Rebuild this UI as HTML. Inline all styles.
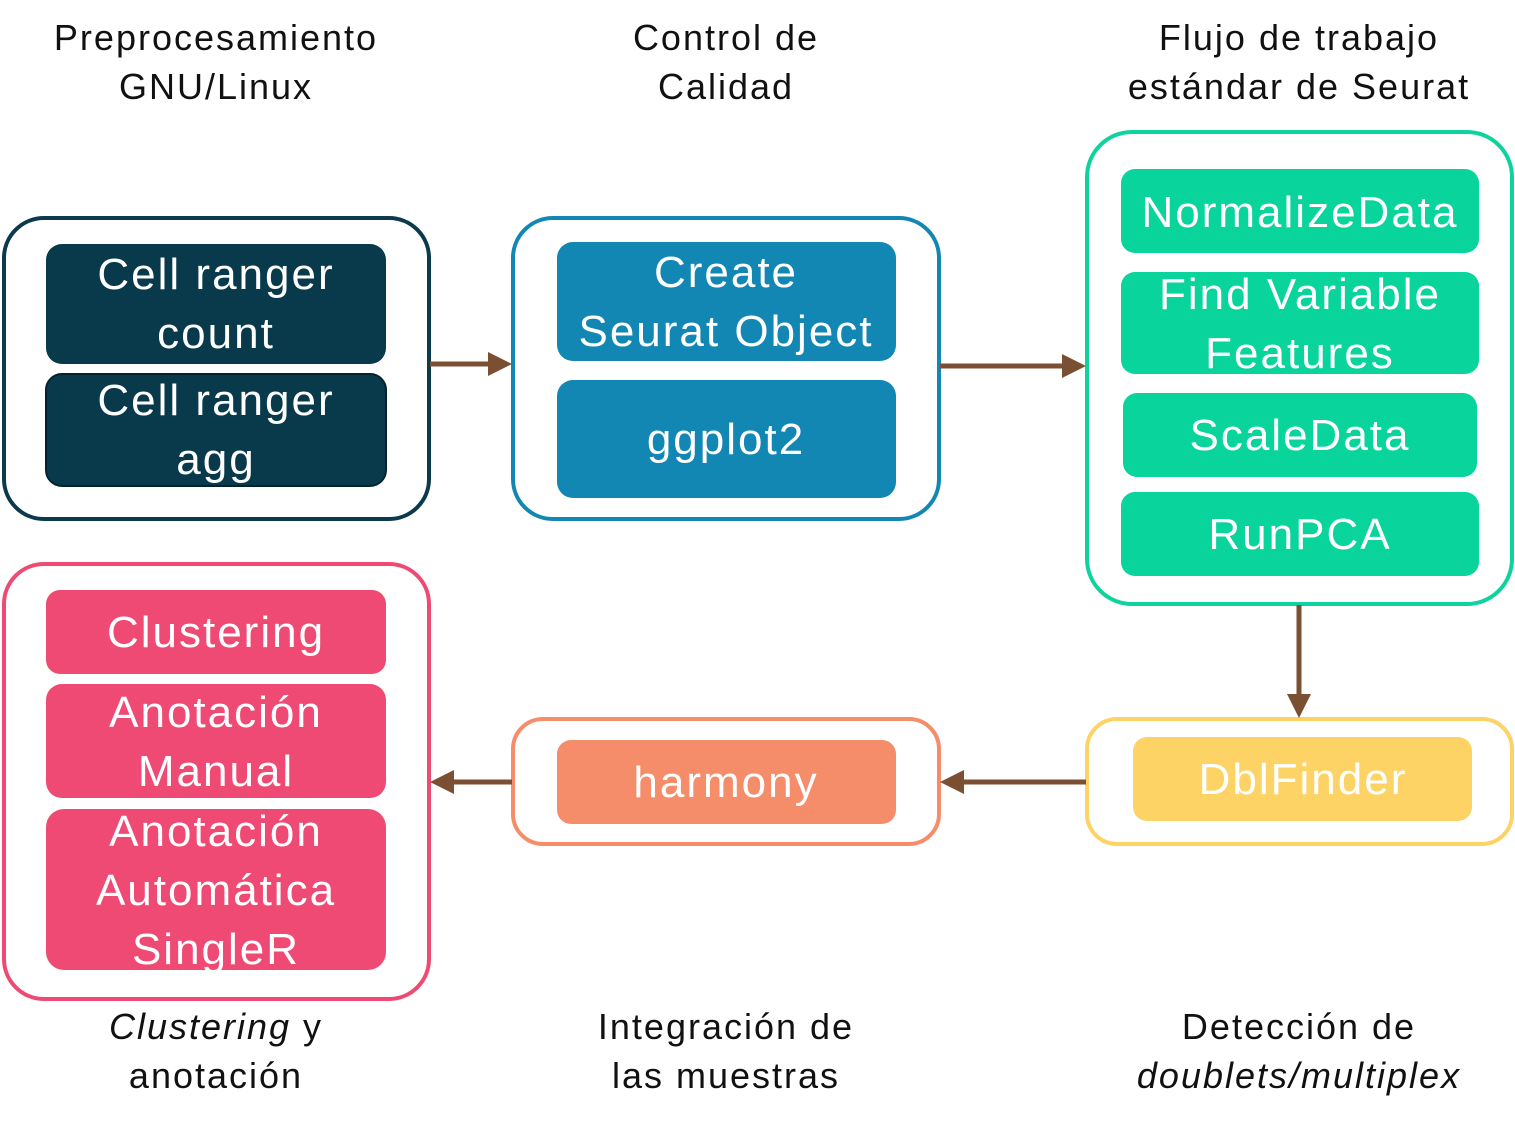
<!DOCTYPE html>
<html><head><meta charset="utf-8"><style>
html,body{margin:0;padding:0;background:#fff;}
svg text{font-family:"Liberation Sans","DejaVu Sans",sans-serif;}
</style></head><body>
<svg width="1515" height="1125" viewBox="0 0 1515 1125" xmlns="http://www.w3.org/2000/svg">
<g font-size="36" fill="#111" text-anchor="middle" letter-spacing="2">
<text x="216" y="50">Preprocesamiento</text><text x="216" y="99">GNU/Linux</text>
<text x="726" y="50">Control de</text><text x="726" y="99">Calidad</text>
<text x="1299" y="50">Flujo de trabajo</text><text x="1299" y="99">estándar de Seurat</text>
<text x="216" y="1039"><tspan font-style="italic">Clustering</tspan> y</text><text x="216" y="1088">anotación</text>
<text x="726" y="1039">Integración de</text><text x="726" y="1088">las muestras</text>
<text x="1299" y="1039">Detección de</text><text x="1299" y="1088" font-style="italic">doublets/multiplex</text>
</g>
<g fill="none" stroke-width="4">
<rect x="4" y="218" width="425" height="301" rx="40" stroke="#0b3a4c"/>
<rect x="513" y="218" width="426" height="301" rx="40" stroke="#1387b3"/>
<rect x="1087" y="132" width="425" height="472" rx="45" stroke="#0ed39f"/>
<rect x="4" y="564" width="425" height="435" rx="40" stroke="#ee4a72"/>
<rect x="513" y="719" width="426" height="125" rx="30" stroke="#f58d6a"/>
<rect x="1087" y="719" width="425" height="125" rx="30" stroke="#fdd365"/>
</g>
<g>
<rect x="46" y="244" width="340" height="120" rx="16" fill="#083a4c"/>
<rect x="46" y="374" width="340" height="112" rx="16" fill="#083a4c" stroke="#03242f" stroke-width="2"/>
<rect x="557" y="242" width="339" height="119" rx="16" fill="#1387b3"/>
<rect x="557" y="380" width="339" height="118" rx="16" fill="#1387b3"/>
<rect x="1121" y="169" width="358" height="84" rx="14" fill="#08d49c"/>
<rect x="1121" y="272" width="358" height="102" rx="14" fill="#08d49c"/>
<rect x="1123" y="393" width="354" height="84" rx="14" fill="#08d49c"/>
<rect x="1121" y="492" width="358" height="84" rx="14" fill="#08d49c"/>
<rect x="46" y="590" width="340" height="84" rx="14" fill="#ef4a73"/>
<rect x="46" y="684" width="340" height="114" rx="16" fill="#ef4a73"/>
<rect x="46" y="809" width="340" height="161" rx="18" fill="#ef4a73"/>
<rect x="557" y="740" width="339" height="84" rx="14" fill="#f58d6a"/>
<rect x="1133" y="737" width="339" height="84" rx="14" fill="#fdd365"/>
</g>
<g font-size="44" fill="#fff" text-anchor="middle" letter-spacing="2">
<text x="216" y="289">Cell ranger</text><text x="216" y="348">count</text>
<text x="216" y="415">Cell ranger</text><text x="216" y="474">agg</text>
<text x="726" y="287">Create</text><text x="726" y="346">Seurat Object</text>
<text x="726" y="454">ggplot2</text>
<text x="1300" y="227">NormalizeData</text>
<text x="1300" y="309">Find Variable</text><text x="1300" y="368">Features</text>
<text x="1300" y="450">ScaleData</text>
<text x="1300" y="549">RunPCA</text>
<text x="216" y="647">Clustering</text>
<text x="216" y="727">Anotación</text><text x="216" y="786">Manual</text>
<text x="216" y="846">Anotación</text><text x="216" y="905">Automática</text><text x="216" y="964">SingleR</text>
<text x="726" y="797">harmony</text>
<text x="1303" y="794">DblFinder</text>
</g>
<g stroke="#7a4f32" stroke-width="5" fill="#7a4f32">
<line x1="430" y1="364" x2="492" y2="364"/><polygon points="488,352 512,364 488,376" stroke="none"/>
<line x1="940" y1="366" x2="1064" y2="366"/><polygon points="1062,354 1086,366 1062,378" stroke="none"/>
<line x1="1299" y1="605" x2="1299" y2="697"/><polygon points="1287,694 1299,718 1311,694" stroke="none"/>
<line x1="1086" y1="782" x2="962" y2="782"/><polygon points="964,770 940,782 964,794" stroke="none"/>
<line x1="512" y1="782" x2="452" y2="782"/><polygon points="454,770 430,782 454,794" stroke="none"/>
</g>
</svg>
</body></html>
